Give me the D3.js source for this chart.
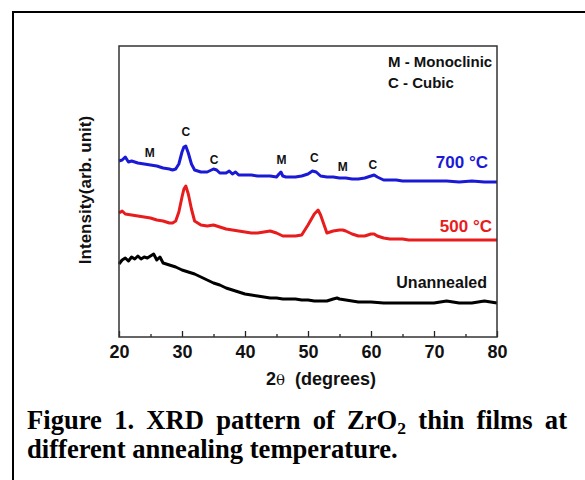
<!DOCTYPE html>
<html>
<head>
<meta charset="utf-8">
<script src="https://cdn.jsdelivr.net/npm/d3@7"></script>
<style>
  body { margin: 0; background: #fff; }
  svg { display: block; }
</style>
</head>
<body>
<script>
// 2-theta positions and intensities (arb. units)
const theta700 = [20, 20.5, 21, 21.5, 22, 23, 24, 25, 26, 27, 28, 28.5, 29, 29.5, 30, 30.3, 30.6, 31, 31.5, 32, 32.5, 33, 34, 35, 35.5, 36, 37, 37.5, 38, 38.5, 39, 40, 41, 42, 43, 44, 45, 45.4, 45.7, 46, 46.5, 47, 48, 49, 50, 50.7, 51.3, 52, 53, 54, 55, 56, 57, 58, 59, 60, 60.5, 61, 62, 63, 64, 65, 66, 67, 68, 70, 72, 74, 76, 78, 80];
const int700 = [176, 177, 180, 175, 176, 174, 173, 172, 171, 169, 168, 167, 168, 173, 185, 190, 191, 184, 173, 167, 166, 165, 165, 168, 167, 164, 164, 166, 163, 165, 162, 162, 162, 161, 161, 161, 160, 163, 165, 161, 160, 160, 160, 161, 163, 166, 165, 161, 160, 160, 159, 159, 158, 158, 159, 161, 162, 160, 157, 157, 157, 156, 156, 156, 156, 156, 156, 155, 156, 155, 155];

const theta500 = [20, 20.5, 21, 22, 23, 24, 25, 26, 27, 28, 28.5, 29, 29.5, 30, 30.3, 30.6, 31, 31.5, 32, 32.5, 33, 34, 35, 36, 37, 38, 39, 40, 41, 42, 43, 44, 45, 46, 47, 48, 49, 50, 51, 51.6, 52, 52.5, 53, 53.5, 54, 55, 55.5, 56, 57, 58, 59, 60, 60.5, 61, 62, 63, 64, 65, 66, 68, 70, 72, 74, 76, 78, 80];
const int500 = [124, 126, 123, 122, 121, 120, 119, 117, 116, 114, 114, 116, 125, 140, 148, 151, 143, 128, 116, 114, 112, 111, 112, 110, 108, 107, 106, 105, 104, 104, 105, 106, 104, 101, 101, 101, 102, 112, 123, 127, 122, 113, 104, 105, 106, 107, 107, 106, 103, 101, 101, 103, 103, 101, 99, 98, 98, 98, 97, 97, 97, 97, 97, 97, 97, 97];

const thetaRaw = [20, 20.5, 21, 21.5, 22, 22.5, 23, 23.5, 24, 24.5, 25, 25.5, 26, 26.5, 27, 28, 29, 30, 31, 32, 33, 34, 35, 36, 37, 38, 39, 40, 41, 42, 43, 44, 45, 46, 47, 48, 49, 50, 51, 52, 53, 54, 54.6, 55, 56, 57, 58, 60, 62, 64, 66, 68, 70, 72, 74, 76, 77, 78, 80];
const intRaw = [73, 77, 79, 76, 80, 78, 81, 78, 80, 79, 81, 83, 77, 80, 74, 72, 70, 67, 65, 63, 60, 57, 54, 52, 49, 47, 45, 43, 42, 41, 40, 39, 39, 38, 38, 38, 37, 37, 36, 36, 36, 38, 39, 38, 37, 36, 35, 35, 34, 34, 34, 34, 34, 36, 34, 34, 35, 36, 34];

const seriesNames = ["700 \u00B0C", "500 \u00B0C", "Unannealed"];
const seriesColors = ["#1a1ad6", "#e81c1c", "#000000"];

// phase markers: position and letter
const markTheta = [24.9, 30.6, 35.1, 45.8, 51, 55.5, 60.3];
const markInt = [180, 201, 173, 173, 175, 166, 168];
const markText = ["M", "C", "C", "M", "C", "M", "C"];

const xTicks = [20, 30, 40, 50, 60, 70, 80];
const xMinorTicks = [25, 35, 45, 55, 65, 75];

const width = 585, height = 480;
const margin = { top: 46, right: 88, bottom: 143, left: 119 };
const innerW = width - margin.left - margin.right;
const innerH = height - margin.top - margin.bottom;

const svg = d3.select("body").append("svg")
  .attr("width", width)
  .attr("height", height);

// outer frame (top and left only visible)
svg.append("path")
  .attr("d", "M13,480 V12 H585")
  .attr("fill", "none")
  .attr("stroke", "#000")
  .attr("stroke-width", 2);

const x = d3.scaleLinear().domain([20, 80]).range([0, innerW]);
const y = d3.scaleLinear().domain([0, 291]).range([innerH, 0]);

const g = svg.append("g")
  .attr("transform", `translate(${margin.left},${margin.top})`);

const line = d3.line()
  .x(d => x(d[0]))
  .y(d => y(d[1]));

const series = [
  d3.zip(theta700, int700),
  d3.zip(theta500, int500),
  d3.zip(thetaRaw, intRaw)
];

series.forEach((s, i) => {
  g.append("path")
    .datum(s)
    .attr("fill", "none")
    .attr("stroke", seriesColors[i])
    .attr("stroke-width", 3)
    .attr("stroke-linejoin", "round")
    .attr("d", line);
});

const sans = "Liberation Sans, Arial, sans-serif";

// axes
const xAxis = g.append("g")
  .attr("transform", `translate(0,${innerH})`)
  .call(d3.axisBottom(x).tickValues(xTicks).tickSize(-6).tickPadding(8));
xAxis.select(".domain").remove();
xAxis.selectAll("line").attr("stroke", "#222").attr("stroke-width", 1.3);
xAxis.selectAll("text")
  .attr("font-family", sans)
  .attr("font-weight", "bold")
  .attr("font-size", 18)
  .attr("fill", "#111");

const xMinor = g.append("g")
  .attr("transform", `translate(0,${innerH})`)
  .call(d3.axisBottom(x).tickValues(xMinorTicks).tickSize(-3).tickFormat(""));
xMinor.select(".domain").remove();
xMinor.selectAll("line").attr("stroke", "#222").attr("stroke-width", 1.3);

// plot frame
g.append("rect")
  .attr("width", innerW)
  .attr("height", innerH)
  .attr("fill", "none")
  .attr("stroke", "#333")
  .attr("stroke-width", 1.5);

// axis titles
const xt = svg.append("text")
  .attr("x", 266)
  .attr("y", 385)
  .attr("font-family", sans)
  .attr("font-weight", "bold")
  .attr("font-size", 18)
  .attr("fill", "#111");
xt.append("tspan").text("2");
xt.append("tspan").attr("font-family", "DejaVu Serif, serif").attr("font-weight", "normal").attr("font-size", 15).text("\u03B8");
xt.append("tspan").attr("xml:space", "preserve").text("  (degrees)");

svg.append("text")
  .attr("transform", "translate(91,190) rotate(-90)")
  .attr("text-anchor", "middle")
  .attr("font-family", sans)
  .attr("font-weight", "bold")
  .attr("font-size", 17)
  .attr("fill", "#111")
  .text("Intensity(arb. unit)");

// legend for phases
svg.append("text")
  .attr("x", 388).attr("y", 67)
  .attr("font-family", sans).attr("font-weight", "bold").attr("font-size", 15)
  .attr("fill", "#111")
  .text("M - Monoclinic");
svg.append("text")
  .attr("x", 388).attr("y", 88)
  .attr("font-family", sans).attr("font-weight", "bold").attr("font-size", 15)
  .attr("fill", "#111")
  .text("C - Cubic");

// peak markers
g.selectAll(".mark")
  .data(markTheta)
  .enter()
  .append("text")
  .attr("class", "mark")
  .attr("x", d => x(d))
  .attr("y", (d, i) => y(markInt[i]))
  .attr("text-anchor", "middle")
  .attr("font-family", sans)
  .attr("font-weight", "bold")
  .attr("font-size", 12)
  .attr("fill", "#111")
  .text((d, i) => markText[i]);

// series labels
const labelPos = [[488, 168], [492, 232], [487, 288]];
seriesNames.forEach((name, i) => {
  svg.append("text")
    .attr("x", labelPos[i][0])
    .attr("y", labelPos[i][1])
    .attr("text-anchor", "end")
    .attr("font-family", sans)
    .attr("font-weight", "bold")
    .attr("font-size", i === 2 ? 16 : 17)
    .attr("fill", i === 2 ? "#111" : seriesColors[i])
    .text(name);
});

// caption, first line justified; size chosen so the second line is 371px wide
const serif = "Liberation Serif, Times New Roman, serif";
const capLeft = 27, capRight = 567, line2Width = 371;
const line1 = ["Figure", "1.", "XRD", "pattern", "of", "ZrO2", "thin", "films", "at"];
const cap = svg.append("g")
  .attr("font-family", serif)
  .attr("font-weight", "bold")
  .attr("font-size", 22)
  .attr("fill", "#000");

const l2 = cap.append("text")
  .attr("x", capLeft)
  .attr("y", 458)
  .text("different annealing temperature.");
const fs = 22 * line2Width / l2.node().getComputedTextLength();
cap.attr("font-size", fs);

const words = line1.map(w => {
  const t = cap.append("text").attr("y", 429);
  if (w === "ZrO2") {
    t.append("tspan").text("ZrO");
    t.append("tspan").attr("font-size", fs * 0.66).attr("dy", 5).text("2");
  } else {
    t.text(w);
  }
  return t;
});
const widths = words.map(t => t.node().getComputedTextLength());
const gap = (capRight - capLeft - d3.sum(widths)) / (words.length - 1);
let cx = capLeft;
words.forEach((t, i) => {
  t.attr("x", cx);
  cx += widths[i] + gap;
});
</script>
</body>
</html>
